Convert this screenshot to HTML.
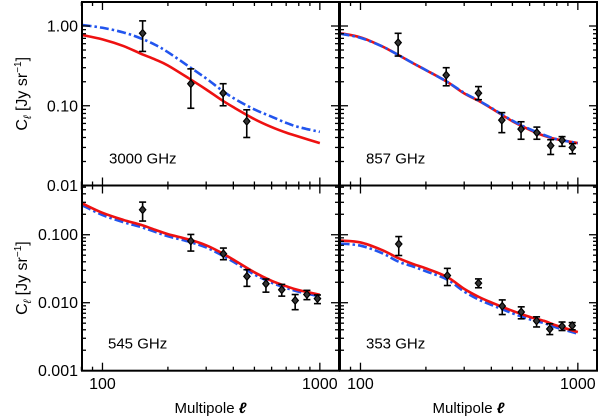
<!DOCTYPE html>
<html><head><meta charset="utf-8">
<style>
html,body{margin:0;padding:0;background:#fff;}
svg{display:block;font-family:"Liberation Sans",sans-serif;}
</style></head>
<body>
<svg id="chart" width="600" height="418" viewBox="0 0 600 418" xmlns="http://www.w3.org/2000/svg"></svg>
<script>
const NS="http://www.w3.org/2000/svg";
// curve sample multipoles
const curveEll=[81,100,125,150,175,200,250,300,350,400,500,600,700,800,1000,1100];
// model curves
const red3000=[0.77,0.68,0.56,0.45,0.38,0.32,0.22,0.16,0.12,0.096,0.068,0.054,0.046,0.041,0.034,0.031];
const blue3000=[1.03,0.95,0.83,0.70,0.58,0.47,0.31,0.22,0.16,0.125,0.09,0.073,0.061,0.054,0.047,0.044];
const red857=[0.81,0.72,0.56,0.43,0.34,0.28,0.20,0.143,0.115,0.093,0.064,0.050,0.042,0.038,0.034,0.032];
const blue857=[0.80,0.71,0.56,0.43,0.34,0.28,0.20,0.145,0.116,0.094,0.065,0.051,0.043,0.038,0.034,0.032];
const red545=[0.287,0.21,0.165,0.14,0.118,0.102,0.085,0.070,0.055,0.043,0.028,0.021,0.0175,0.0153,0.0131,0.0119];
const blue545=[0.27,0.195,0.153,0.13,0.11,0.095,0.079,0.065,0.051,0.040,0.026,0.0197,0.0165,0.0145,0.0124,0.0113];
const red353=[0.082,0.077,0.060,0.045,0.037,0.032,0.024,0.016,0.0122,0.0101,0.0076,0.0062,0.0054,0.0046,0.0037,0.0034];
const blue353=[0.074,0.069,0.054,0.040,0.034,0.029,0.022,0.0146,0.0111,0.0093,0.0070,0.0057,0.0050,0.0043,0.0035,0.0032];
// measured data points
const ell3000=[153,255,359,461];
const val3000=[0.81,0.189,0.144,0.064];
const hi3000=[1.16,0.29,0.189,0.089];
const lo3000=[0.48,0.093,0.10,0.040];
const ell857=[149,248,349,447,548,648,750,846,944];
const val857=[0.618,0.242,0.144,0.066,0.051,0.046,0.0316,0.037,0.030];
const hi857=[0.81,0.30,0.174,0.082,0.063,0.054,0.0375,0.041,0.0335];
const lo857=[0.42,0.178,0.119,0.046,0.038,0.038,0.0245,0.031,0.025];
const ell545=[153,255,360,462,565,668,770,872,975];
const val545=[0.233,0.081,0.0525,0.0244,0.019,0.0155,0.0108,0.0132,0.0115];
const hi545=[0.302,0.101,0.0637,0.0306,0.0223,0.0186,0.0132,0.0152,0.013];
const lo545=[0.159,0.0575,0.0429,0.0174,0.0143,0.0125,0.0079,0.0111,0.0097];
const ell353=[150,251,349,449,549,646,743,846,942];
const val353=[0.073,0.0251,0.0194,0.0089,0.0073,0.0054,0.0041,0.0045,0.0046];
const hi353=[0.094,0.032,0.0224,0.011,0.0087,0.0062,0.0049,0.0052,0.0051];
const lo353=[0.0495,0.0179,0.0166,0.0067,0.0058,0.0044,0.0034,0.0039,0.0040];
const xTickLabels=["100","1000"];
const yTickTop=["1.00","0.10","0.01"];
const yTickBottom=["0.100","0.010","0.001"];

const svg=document.getElementById('chart');
function mk(tag,attrs,parent){const e=document.createElementNS(NS,tag);for(const k in attrs)e.setAttribute(k,attrs[k]);(parent||svg).appendChild(e);return e;}
const XMIN=80.5,XMAX=1225;
function xScale(p,l){return p.x0+(Math.log10(l)-Math.log10(XMIN))/(Math.log10(XMAX)-Math.log10(XMIN))*(p.x1-p.x0);}
function yScale(p,v){return p.y1-(Math.log10(v)-Math.log10(p.vmin))/(Math.log10(p.vmax)-Math.log10(p.vmin))*(p.y1-p.y0);}

const panels=[
 {key:"3000",x0:82,x1:339,y0:2,y1:185.5,vmin:0.01,vmax:2.0,red:red3000,blue:blue3000,ell:ell3000,val:val3000,hi:hi3000,lo:lo3000,label:"3000  GHz",lx:109,ylab:yTickTop,yd:[1,0.1,0.01],bottom:false},
 {key:"857",x0:340,x1:597,y0:2,y1:185.5,vmin:0.01,vmax:2.0,red:red857,blue:blue857,ell:ell857,val:val857,hi:hi857,lo:lo857,label:"857  GHz",lx:366,ylab:null,yd:[1,0.1,0.01],bottom:false},
 {key:"545",x0:82,x1:339,y0:185.5,y1:370.7,vmin:0.001,vmax:0.53,red:red545,blue:blue545,ell:ell545,val:val545,hi:hi545,lo:lo545,label:"545  GHz",lx:108,ylab:yTickBottom,yd:[0.1,0.01,0.001],bottom:true},
 {key:"353",x0:340,x1:597,y0:185.5,y1:370.7,vmin:0.001,vmax:0.53,red:red353,blue:blue353,ell:ell353,val:val353,hi:hi353,lo:lo353,label:"353  GHz",lx:366,ylab:null,yd:[0.1,0.01,0.001],bottom:true}
];

function smoothPath(pts){
  let d="M"+pts[0][0].toFixed(2)+","+pts[0][1].toFixed(2);
  for(let i=0;i<pts.length-1;i++){
    const p0=pts[Math.max(0,i-1)],p1=pts[i],p2=pts[i+1],p3=pts[Math.min(pts.length-1,i+2)];
    const c1x=p1[0]+(p2[0]-p0[0])/6,c1y=p1[1]+(p2[1]-p0[1])/6;
    const c2x=p2[0]-(p3[0]-p1[0])/6,c2y=p2[1]-(p3[1]-p1[1])/6;
    d+=" C"+c1x.toFixed(2)+","+c1y.toFixed(2)+" "+c2x.toFixed(2)+","+c2y.toFixed(2)+" "+p2[0].toFixed(2)+","+p2[1].toFixed(2);
  }
  return d;
}

panels.forEach(p=>{
  const g=mk('g',{});
  
  
  const cid='clip'+p.key;
  const cp=mk('clipPath',{id:cid},g);
  mk('rect',{x:p.x0,y:p.y0,width:p.x1-p.x0,height:p.y1-p.y0},cp);
  const bpts=curveEll.map((l,i)=>[xScale(p,l),yScale(p,p.blue[i])]).filter(q=>q[0]<=xScale(p,1090));
  const rpts=curveEll.map((l,i)=>[xScale(p,l),yScale(p,p.red[i])]).filter(q=>q[0]<=xScale(p,1090));
  const bl=mk('path',{d:smoothPath(bpts),fill:'none',stroke:'#2255ee','stroke-width':2.6,'stroke-dasharray':'9,3,2.5,3','clip-path':'url(#'+cid+')'},g);
  
  
  const rl=mk('path',{d:smoothPath(rpts),fill:'none',stroke:'#ee1111','stroke-width':2.6,'clip-path':'url(#'+cid+')'},g);
  
  
  if(p.key==="857"){bl.parentNode.appendChild(bl);}
  p.ell.forEach((l,i)=>{
    const x=xScale(p,l),y=yScale(p,p.val[i]),yh=yScale(p,p.hi[i]),yl=yScale(p,p.lo[i]);
    const eg=mk('g',{},g);
    
    
    mk('line',{x1:x,x2:x,y1:yh,y2:yl,stroke:'#000','stroke-width':1.6},eg);
    mk('line',{x1:x-3.5,x2:x+3.5,y1:yh,y2:yh,stroke:'#000','stroke-width':1.6},eg);
    mk('line',{x1:x-3.5,x2:x+3.5,y1:yl,y2:yl,stroke:'#000','stroke-width':1.6},eg);
    mk('path',{d:`M${x},${y-3.8}L${x+3.2},${y}L${x},${y+3.8}L${x-3.2},${y}Z`,fill:'#333',stroke:'#000','stroke-width':1.2},eg);
  });
  const fr=mk('rect',{x:p.x0,y:p.y0,width:p.x1-p.x0,height:p.y1-p.y0,fill:'none',stroke:'#000','stroke-width':2},g);
  
  
  const xt=[80,90,100,200,300,400,500,600,700,800,900,1000];
  xt.forEach(t=>{
    const x=xScale(p,t),len=(t===100||t===1000)?8:4;
    mk('line',{x1:x,x2:x,y1:p.y1,y2:p.y1-len,stroke:'#000','stroke-width':1.3},g);
    mk('line',{x1:x,x2:x,y1:p.y0,y2:p.y0+len,stroke:'#000','stroke-width':1.3},g);
  });
  for(let e=-3;e<=0;e++){
    for(let m=1;m<=9;m++){
      const v=m*Math.pow(10,e);
      if(v<p.vmin*0.999||v>p.vmax)continue;
      const y=yScale(p,v),len=m===1?8:4;
      mk('line',{x1:p.x0,x2:p.x0+len,y1:y,y2:y,stroke:'#000','stroke-width':1.3},g);
      mk('line',{x1:p.x1,x2:p.x1-len,y1:y,y2:y,stroke:'#000','stroke-width':1.3},g);
    }
  }
  const lt=mk('text',{x:p.lx,y:p.y1-22,'font-size':15,fill:'#000','xml:space':'preserve'},g);
  lt.textContent=p.label;
  
  
  if(p.ylab){
    p.yd.forEach((v,i)=>{
      const t=mk('text',{x:78,y:yScale(p,v)+5.5,'font-size':16,'text-anchor':'end',fill:'#000'},g);
      t.textContent=p.ylab[i];
      
      
    });
    const yc=(p.y0+p.y1)/2;
    const yt=mk('text',{x:0,y:0,'font-size':16,'text-anchor':'middle',fill:'#000',transform:`translate(27,${yc}) rotate(-90)`},g);
    yt.innerHTML='C<tspan font-size="11" font-style="italic" dy="4">ℓ</tspan><tspan dy="-4"> [Jy sr</tspan><tspan font-size="10" dy="-6">−1</tspan><tspan dy="6">]</tspan>';
    
    
  }
  if(p.bottom){
    [100,1000].forEach((v,i)=>{
      let x=xScale(p,v);
      const t=mk('text',{x:x,y:389,'font-size':16,'text-anchor':'middle',fill:'#000'},g);
      t.textContent=xTickLabels[i];
      
      
    });
    const xt2=mk('text',{x:(p.x0+p.x1)/2,y:413,'font-size':15,'text-anchor':'middle',fill:'#000'},g);
    xt2.innerHTML='Multipole <tspan font-style="italic" font-weight="bold">ℓ</tspan>';
    
    
  }
});
</script>
</body></html>
